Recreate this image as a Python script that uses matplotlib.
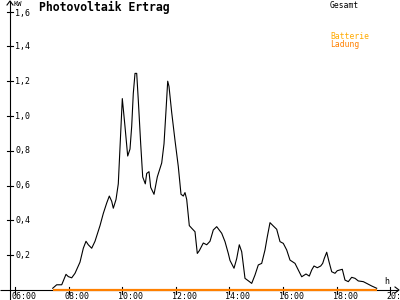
import matplotlib
matplotlib.use("Agg")
import matplotlib.pyplot as plt

# ---- data ----
times = [7.407, 7.556, 7.743, 7.903, 7.989, 8.116, 8.239, 8.425, 8.549, 8.649,
         8.735, 8.862, 8.985, 9.172, 9.295, 9.422, 9.519, 9.608, 9.668, 9.769,
         9.854, 10.004, 10.104, 10.205, 10.291, 10.354, 10.414, 10.478, 10.541, 10.601,
         10.690, 10.765, 10.862, 10.914, 11.0, 11.063, 11.187, 11.310, 11.474, 11.560,
         11.634, 11.698, 11.746, 11.847, 11.970, 12.093, 12.194, 12.280, 12.343, 12.407,
         12.504, 12.593, 12.716, 12.802, 12.877, 13.026, 13.153, 13.276, 13.399, 13.526,
         13.713, 13.836, 13.959, 14.022, 14.172, 14.272, 14.369, 14.459, 14.582, 14.705,
         14.832, 14.955, 15.078, 15.205, 15.328, 15.414, 15.515, 15.638, 15.765, 15.888,
         16.011, 16.138, 16.261, 16.448, 16.571, 16.698, 16.858, 16.981, 17.071, 17.157,
         17.280, 17.407, 17.481, 17.541, 17.631, 17.716, 17.817, 17.940, 18.026, 18.213,
         18.313, 18.437, 18.563, 18.687, 18.810, 18.996, 19.123, 19.310, 19.496]
gesamt = [0.01, 0.03, 0.03, 0.09, 0.077, 0.07, 0.096, 0.16, 0.24, 0.28,
          0.26, 0.24, 0.28, 0.37, 0.44, 0.50, 0.54, 0.51, 0.47, 0.52,
          0.61, 1.10, 0.94, 0.77, 0.81, 0.94, 1.13, 1.245, 1.245, 1.09,
          0.84, 0.65, 0.61, 0.67, 0.68, 0.59, 0.55, 0.65, 0.73, 0.84,
          1.03, 1.20, 1.17, 1.02, 0.86, 0.71, 0.55, 0.54, 0.56, 0.52,
          0.37, 0.355, 0.335, 0.21, 0.226, 0.27, 0.26, 0.28, 0.345, 0.364,
          0.326, 0.278, 0.21, 0.17, 0.125, 0.18, 0.26, 0.22, 0.067, 0.053,
          0.038, 0.086, 0.144, 0.153, 0.23, 0.306, 0.387, 0.368, 0.349, 0.278,
          0.268, 0.23, 0.172, 0.153, 0.115, 0.076, 0.092, 0.08, 0.115, 0.138,
          0.128, 0.138, 0.153, 0.182, 0.217, 0.163, 0.105, 0.096, 0.111, 0.119,
          0.057, 0.048, 0.073, 0.067, 0.052, 0.048, 0.038, 0.023, 0.01]
ladung_times = [7.407, 19.496]
ladung = [0.0, 0.0]

x_ticks = [6, 8, 10, 12, 14, 16, 18, 20]
x_tick_labels = ["06:00", "08:00", "10:00", "12:00", "14:00", "16:00", "18:00", "20:"]
y_ticks = [0.2, 0.4, 0.6, 0.8, 1.0, 1.2, 1.4, 1.6]
y_tick_labels = ["0,2", "0,4", "0,6", "0,8", "1,0", "1,2", "1,4", "1,6"]

# ---- pixel <-> data mapping (figure is 400x300 px) ----
PXH = 26.8      # px per hour
X0PX = 15.0     # px of 06:00
PXV = 174.0     # px per kW
Y0PX = 290.0    # px (from top) of 0


def hx(px):
    return 6 + (px - X0PX) / PXH


def vy(py):
    return (Y0PX - py) / PXV


mono = "DejaVu Sans Mono"
fig = plt.figure(figsize=(4, 3), dpi=100)
ax = fig.add_axes([0, 0, 1, 1])
ax.set_xlim(hx(0), hx(400))
ax.set_ylim(vy(300), vy(0))
ax.axis("off")

# axes lines
ax.plot([hx(0), hx(398)], [0, 0], color="black", lw=0.8, solid_capstyle="butt")
yaxis_x = hx(10)
ax.plot([yaxis_x, yaxis_x], [vy(300), vy(1)], color="black", lw=0.8)
# arrow heads
ax.plot([hx(7), yaxis_x, hx(13)], [vy(5), vy(1), vy(5)], color="black", lw=0.8)
ax.plot([hx(395), hx(399), hx(395)], [vy(287), vy(290), vy(293)], color="black", lw=0.8)

# y ticks
for v, lab in zip(y_ticks, y_tick_labels):
    ax.plot([hx(7), hx(13)], [v, v], color="black", lw=0.8)
    off = 1.0 if v == 1.6 else 0.0
    ax.text(hx(15), v - off / PXV, lab, fontsize=6, family=mono, ha="left",
            va="center_baseline" if v == 1.6 else "center")
ax.text(hx(14), vy(0.5), "KW", fontsize=5, family=mono, ha="left", va="top")

# x ticks
for h, lab in zip(x_ticks, x_tick_labels):
    ax.plot([h, h], [vy(287), vy(294)], color="black", lw=0.8)
    ax.text(h + (-4 / PXH), vy(296.5), lab, fontsize=6, family=mono, ha="left", va="center")
ax.text(hx(387), vy(281), "h", fontsize=6, family=mono, ha="center", va="center")

# series
ax.plot(ladung_times, ladung, color="#FF8000", lw=1.6, solid_capstyle="butt")
ax.plot(times, gesamt, color="black", lw=0.8)

# title and legend
ax.text(hx(39), vy(7.5), "Photovoltaik Ertrag", fontsize=8.3, family=mono,
        fontweight="bold", ha="left", va="center")
ax.text(hx(330), vy(5), "Gesamt", fontsize=5.8, family=mono, ha="left", va="center", color="black")
ax.text(hx(330), vy(36.5), "Batterie", fontsize=5.8, family=mono, ha="left", va="center", color="#FFAA00")
ax.text(hx(330), vy(44.5), "Ladung", fontsize=5.8, family=mono, ha="left", va="center", color="#FF8000")

fig.savefig("out.png", dpi=100)
